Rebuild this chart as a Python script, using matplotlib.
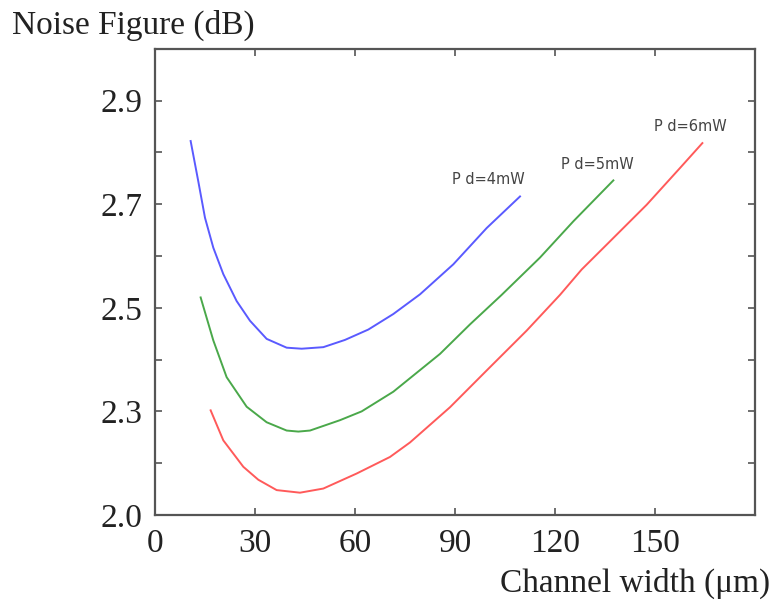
import matplotlib
matplotlib.use("Agg")
import matplotlib.pyplot as plt

# Channel width (um) vs noise figure (dB) for three drain powers
x_4mw = [10.7, 13.0, 15.0, 17.5, 20.5, 24.5, 28.5, 33.5, 39.5, 44.0, 50.5, 57.0,
         64.0, 71.5, 79.5, 89.5, 99.5, 109.5]
y_4mw = [2.822, 2.744, 2.674, 2.616, 2.565, 2.513, 2.475, 2.440, 2.423, 2.421, 2.424, 2.438,
         2.458, 2.488, 2.526, 2.584, 2.654, 2.715]

x_5mw = [13.7, 17.5, 21.5, 27.5, 33.5, 39.5, 43.0, 46.5, 55.5, 62.0, 71.5, 85.5,
         94.5, 104.0, 115.5, 125.5, 137.5]
y_5mw = [2.520, 2.437, 2.366, 2.309, 2.279, 2.263, 2.261, 2.263, 2.283, 2.300, 2.338, 2.411,
         2.468, 2.525, 2.597, 2.667, 2.746]

x_6mw = [16.7, 20.5, 26.5, 31.0, 36.5, 43.5, 50.5, 60.5, 70.5, 76.5, 88.5, 99.5,
         111.5, 121.5, 128.0, 135.5, 147.5, 157.5, 164.2]
y_6mw = [2.302, 2.244, 2.193, 2.168, 2.148, 2.143, 2.151, 2.180, 2.212, 2.240, 2.308, 2.379,
         2.456, 2.525, 2.574, 2.622, 2.699, 2.770, 2.818]

series_labels = ["P d=4mW", "P d=5mW", "P d=6mW"]
label_pos_x = [99.9, 132.6, 160.5]
label_pos_y = [2.748, 2.777, 2.850]

x_ticks = [0, 30, 60, 90, 120, 150]
y_ticks = [2.1, 2.2, 2.3, 2.4, 2.5, 2.6, 2.7, 2.8, 2.9]
y_tick_labels = ["2.0", "", "2.3", "", "2.5", "", "2.7", "", "2.9"]

colors = ["#5a5aff", "#4aa84a", "#ff5a5a"]
serif = ["Liberation Serif", "DejaVu Serif"]

fig = plt.figure(figsize=(7.76, 6.03), dpi=100)
ax = fig.add_axes([0.1997, 0.146, 0.7733, 0.773])

for xs, ys, c in zip([x_4mw, x_5mw, x_6mw], [y_4mw, y_5mw, y_6mw], colors):
    ax.plot(xs, ys, color=c, lw=1.4, solid_joinstyle="round")

for lab, lx, ly in zip(series_labels, label_pos_x, label_pos_y):
    ax.text(lx, ly, lab, fontsize=10.5, family="DejaVu Sans", color="#444444",
            ha="center", va="center")

ax.set_xlim(0, 180)
ax.set_ylim(2.1, 3.0)
ax.set_xticks(x_ticks)
ax.set_xticklabels([str(v) for v in x_ticks], family=serif, fontsize=24, color="#222222")
ax.set_yticks(y_ticks)
ax.set_yticklabels(y_tick_labels, family=serif, fontsize=24, color="#222222")
ax.tick_params(axis="both", direction="in", length=5, width=1.2, color="#555555",
               top=True, right=True)
ax.tick_params(axis="x", pad=10)
ax.tick_params(axis="y", pad=9)
for s in ax.spines.values():
    s.set_color("#555555")
    s.set_linewidth(1.6)

fig.text(12 / 776, 1 - 25 / 603, "Noise Figure (dB)", family=serif, fontsize=24,
         color="#222222", ha="left", va="center")
fig.text(770 / 776, 1 - 583 / 603, "Channel width (\u03bcm)", family=serif, fontsize=24,
         color="#222222", ha="right", va="center")

fig.savefig("out.png", dpi=100)
